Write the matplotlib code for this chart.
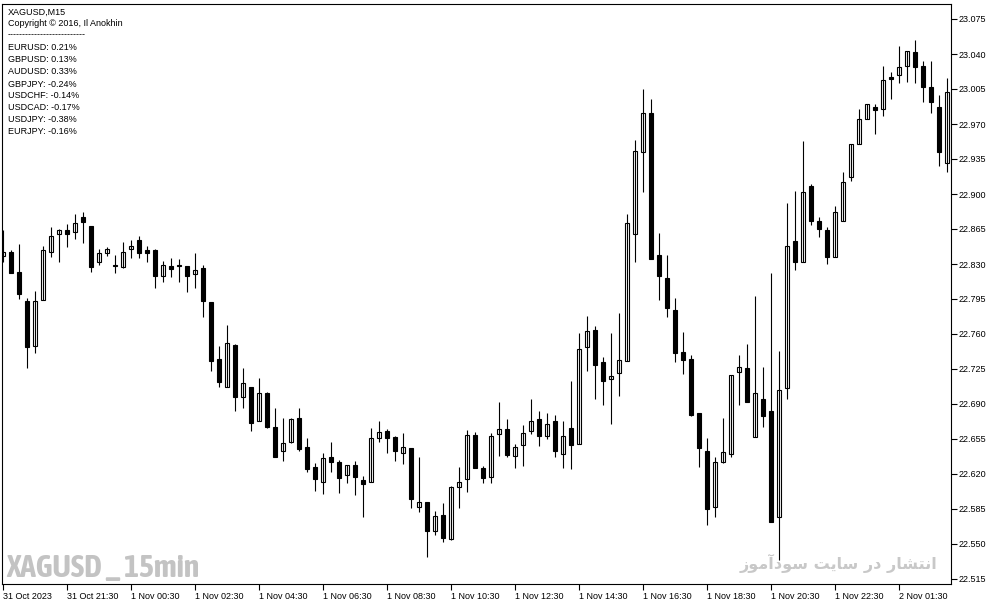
import matplotlib.pyplot as plt
from matplotlib import font_manager
import numpy as np

# XAGUSD M15 candles (open, high, low, close)
opens = [22.838, 22.842, 22.822, 22.793, 22.748, 22.794, 22.842, 22.860, 22.864, 22.862,
         22.877, 22.868, 22.832, 22.841, 22.829, 22.827, 22.845, 22.854, 22.844, 22.844,
         22.818, 22.828, 22.829, 22.828, 22.820, 22.826, 22.792, 22.735, 22.707, 22.749,
         22.697, 22.707, 22.673, 22.701, 22.667, 22.643, 22.652, 22.676, 22.647, 22.627,
         22.612, 22.637, 22.632, 22.619, 22.629, 22.614, 22.612, 22.656, 22.663, 22.657,
         22.641, 22.646, 22.587, 22.592, 22.563, 22.579, 22.555, 22.607, 22.615, 22.659,
         22.626, 22.617, 22.660, 22.665, 22.638, 22.649, 22.663, 22.675, 22.658, 22.673,
         22.640, 22.666, 22.650, 22.747, 22.764, 22.732, 22.715, 22.721, 22.733, 22.860,
         22.942, 22.981, 22.839, 22.816, 22.784, 22.742, 22.735, 22.681, 22.643, 22.587,
         22.632, 22.640, 22.722, 22.726, 22.657, 22.695, 22.683, 22.577, 22.706, 22.853,
         22.832, 22.908, 22.873, 22.864, 22.837, 22.873, 22.917, 22.950, 22.975, 22.987,
         22.985, 23.017, 23.019, 23.028, 23.042, 23.028, 23.007, 22.987, 22.931]
highs = [22.864, 22.844, 22.850, 22.796, 22.803, 22.848, 22.867, 22.865, 22.870, 22.880,
         22.882, 22.868, 22.845, 22.847, 22.839, 22.852, 22.854, 22.858, 22.848, 22.845,
         22.833, 22.836, 22.835, 22.828, 22.841, 22.829, 22.792, 22.748, 22.769, 22.750,
         22.726, 22.707, 22.716, 22.702, 22.686, 22.676, 22.676, 22.686, 22.656, 22.631,
         22.641, 22.652, 22.634, 22.629, 22.633, 22.618, 22.666, 22.673, 22.665, 22.658,
         22.661, 22.646, 22.637, 22.592, 22.583, 22.591, 22.608, 22.627, 22.664, 22.662,
         22.628, 22.661, 22.692, 22.675, 22.650, 22.669, 22.695, 22.683, 22.681, 22.679,
         22.673, 22.713, 22.761, 22.778, 22.768, 22.737, 22.761, 22.781, 22.880, 22.954,
         23.005, 22.995, 22.861, 22.839, 22.796, 22.762, 22.739, 22.681, 22.656, 22.637,
         22.676, 22.719, 22.739, 22.750, 22.798, 22.727, 22.821, 22.743, 22.891, 22.903,
         22.953, 22.910, 22.877, 22.867, 22.888, 22.922, 22.950, 22.985, 22.990, 22.990,
         23.028, 23.022, 23.048, 23.043, 23.054, 23.033, 23.033, 22.999, 23.016]
lows = [22.832, 22.821, 22.795, 22.726, 22.741, 22.794, 22.837, 22.832, 22.847, 22.855,
        22.851, 22.822, 22.829, 22.838, 22.821, 22.826, 22.836, 22.836, 22.832, 22.806,
        22.812, 22.817, 22.812, 22.802, 22.806, 22.777, 22.723, 22.707, 22.707, 22.683,
        22.686, 22.663, 22.673, 22.666, 22.637, 22.633, 22.651, 22.643, 22.622, 22.603,
        22.600, 22.622, 22.601, 22.611, 22.599, 22.577, 22.612, 22.652, 22.641, 22.633,
        22.630, 22.586, 22.582, 22.537, 22.559, 22.552, 22.554, 22.586, 22.602, 22.626,
        22.611, 22.611, 22.638, 22.637, 22.626, 22.628, 22.660, 22.648, 22.655, 22.637,
        22.626, 22.625, 22.650, 22.723, 22.695, 22.689, 22.670, 22.698, 22.733, 22.832,
        22.902, 22.835, 22.794, 22.777, 22.732, 22.720, 22.678, 22.627, 22.569, 22.577,
        22.631, 22.637, 22.689, 22.692, 22.657, 22.667, 22.572, 22.534, 22.695, 22.824,
        22.832, 22.869, 22.857, 22.830, 22.837, 22.873, 22.913, 22.950, 22.975, 22.960,
        22.978, 22.995, 23.011, 23.012, 23.011, 22.992, 22.981, 22.928, 22.922]
closes = [22.842, 22.821, 22.800, 22.747, 22.793, 22.844, 22.858, 22.864, 22.860, 22.871,
          22.872, 22.827, 22.841, 22.845, 22.828, 22.842, 22.848, 22.841, 22.841, 22.818,
          22.829, 22.825, 22.828, 22.818, 22.824, 22.793, 22.733, 22.712, 22.751, 22.697,
          22.711, 22.671, 22.701, 22.667, 22.637, 22.651, 22.675, 22.645, 22.625, 22.615,
          22.636, 22.632, 22.616, 22.629, 22.617, 22.610, 22.656, 22.662, 22.656, 22.643,
          22.647, 22.595, 22.592, 22.563, 22.578, 22.556, 22.607, 22.612, 22.659, 22.626,
          22.616, 22.658, 22.665, 22.639, 22.647, 22.661, 22.673, 22.658, 22.670, 22.643,
          22.658, 22.649, 22.745, 22.763, 22.729, 22.713, 22.718, 22.734, 22.871, 22.943,
          22.981, 22.835, 22.818, 22.786, 22.741, 22.734, 22.679, 22.646, 22.585, 22.632,
          22.642, 22.719, 22.727, 22.692, 22.701, 22.678, 22.572, 22.704, 22.848, 22.832,
          22.902, 22.873, 22.865, 22.837, 22.882, 22.912, 22.950, 22.975, 22.990, 22.984,
          23.014, 23.015, 23.027, 23.043, 23.027, 23.007, 22.992, 22.942, 23.002]

time_labels = ["31 Oct 2023", "31 Oct 21:30", "1 Nov 00:30", "1 Nov 02:30", "1 Nov 04:30",
               "1 Nov 06:30", "1 Nov 08:30", "1 Nov 10:30", "1 Nov 12:30", "1 Nov 14:30",
               "1 Nov 16:30", "1 Nov 18:30", "1 Nov 20:30", "1 Nov 22:30", "2 Nov 01:30"]
label_bars = list(range(0, 120, 8))[:len(time_labels)]

price_ticks = [23.075, 23.040, 23.005, 22.970, 22.935, 22.900, 22.865, 22.830, 22.795,
               22.760, 22.725, 22.690, 22.655, 22.620, 22.585, 22.550, 22.515]

corr_lines = ["EURUSD: 0.21%", "GBPUSD: 0.13%", "AUDUSD: 0.33%", "GBPJPY: -0.24%",
              "USDCHF: -0.14%", "USDCAD: -0.17%", "USDJPY: -0.38%", "EURJPY: -0.16%"]

o = np.array(opens)
h = np.array(highs)
l = np.array(lows)
c = np.array(closes)
x = np.arange(len(o))
up = c >= o

plt.rcParams['font.family'] = ['Liberation Sans', 'DejaVu Sans']

W, H = 991, 605
fig = plt.figure(figsize=(W / 100, H / 100), dpi=100)
ax = fig.add_axes([2 / W, 1 - 584 / H, (951 - 2) / W, (584 - 4) / H])

#wicks first, bodies on top
ax.vlines(x, l, h, color="black", linewidth=0.8)
body_bottom = np.minimum(o, c)
body_height = np.abs(c - o)
ax.bar(x[up], body_height[up], bottom=body_bottom[up], width=0.6,
       color="white", edgecolor="black", linewidth=0.8)
ax.bar(x[~up], body_height[~up], bottom=body_bottom[~up], width=0.6,
       color="black", edgecolor="black", linewidth=0.8)

ax.set_xlim(-0.125, 118.5)
ax.set_ylim(22.510, 23.090)

ax.yaxis.tick_right()
ax.set_yticks(price_ticks)
ax.set_yticklabels([f"{p:.3f}" for p in price_ticks])
ax.set_xticks(label_bars)
ax.set_xticklabels(time_labels)
for t in ax.get_xticklabels():
    t.set_ha("left")
ax.tick_params(axis="both", direction="out", length=4, width=0.8, labelsize=6.5, pad=2)
ax.tick_params(axis="y", pad=1.5)
for s in ax.spines.values():
    s.set_linewidth(0.8)
    s.set_color("black")

# info text top-left
tx = 6 / (951 - 2)
def ypos(py):
    return 1 - (py - 4) / 580

ax.text(tx, ypos(12), "XAGUSD,M15", transform=ax.transAxes, fontsize=6.5, va="center")
ax.text(tx, ypos(24), "Copyright © 2016, Il Anokhin", transform=ax.transAxes, fontsize=6.5, va="center")
ax.text(tx, ypos(35), "-" * 26, transform=ax.transAxes, fontsize=6.5, va="center")
for i, line in enumerate(corr_lines):
    ax.text(tx, ypos(48 + 12 * i), line, transform=ax.transAxes, fontsize=6.5, va="center")

# watermarks - look for a bold narrow font file
def wt(f):
    try:
        return int(f.weight)
    except ValueError:
        return 700 if "bold" in str(f.weight) else 400

cands = [f for f in font_manager.fontManager.ttflist
         if ("Condensed" in f.name or "Narrow" in f.name or "ondensed" in str(f.stretch)
             or "arrow" in str(f.stretch)) and f.style == "normal"]
cands.sort(key=lambda f: (abs(wt(f) - 750), f.name))
if cands:
    wm_font = font_manager.FontProperties(fname=cands[0].fname)
else:
    wm_font = font_manager.FontProperties(family="DejaVu Sans", weight="bold")

wm = ax.text(4 / 949, ypos(577), "XAGUSD _ 15min", transform=ax.transAxes,
             fontproperties=wm_font, color="#c3c3c3", va="baseline")
wm.set_fontsize(22)
fa_text = ("\ufeaf\ufeee\ufee3\ufe81\ufea9\ufeee\ufeb3 \ufe96\ufef3\ufe8e\ufeb3 "
           "\ufead\ufea9 \ufead\ufe8e\ufeb8\ufe98\ufee7\ufe8d")
fa = ax.text(935 / 949, ypos(563), fa_text, transform=ax.transAxes, fontsize=12,
             family="DejaVu Sans", weight="bold", color="#c8c8c8", va="center", ha="right")

# fit watermark widths to the reference
fig.canvas.draw()
r = fig.canvas.get_renderer()
wm.set_fontsize(22 * 193 / wm.get_window_extent(r).width)
fa.set_fontsize(12 * 197 / fa.get_window_extent(r).width)

fig.savefig("out.png", dpi=100)
